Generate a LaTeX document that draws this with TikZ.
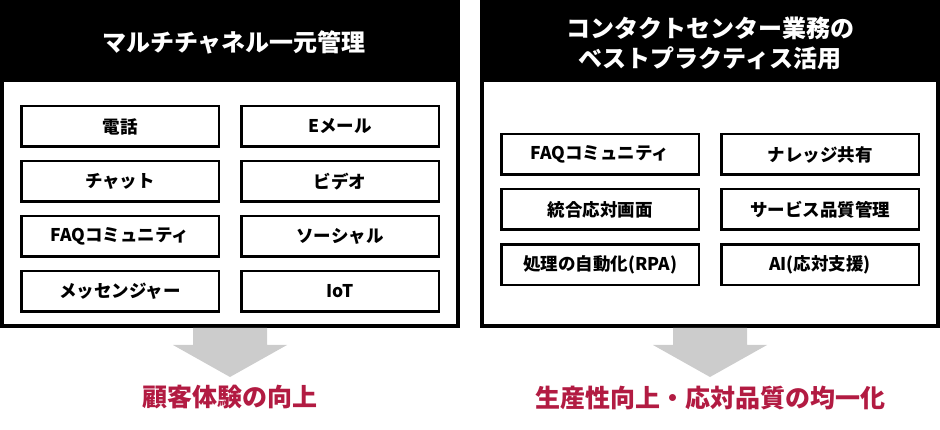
\documentclass[tikz,border=0pt]{standalone}
\usepackage{fontspec}
\setmainfont{Noto Sans CJK JP}
\definecolor{crim}{RGB}{178,27,66}
\definecolor{arr}{RGB}{204,204,204}
\begin{document}
\begin{tikzpicture}[x=1pt,y=-1pt,
  item/.style={draw=black,line width=2.5pt,fill=white,minimum width=197.5pt,minimum height=40.5pt,inner sep=0pt,font=\fontsize{17.5}{20}\selectfont\bfseries},
  head/.style={text=white,align=center,font=\fontsize{24}{30}\selectfont\bfseries},
  result/.style={text=crim,font=\fontsize{25}{28}\selectfont\bfseries},
  blockarrow/.style={fill=arr}]
\useasboundingbox (0,0) rectangle (940,430);
% panels
\fill[black] (0,0) rectangle (460,328);
\fill[white] (4,82) rectangle (456,324);
\fill[black] (480,0) rectangle (940,328);
\fill[white] (484,82) rectangle (936,324);
\node[head] (lt) at (234,42) {マルチチャネル一元管理};
\node[head] (rt) at (710,43) {コンタクトセンター業務の\\ベストプラクティス活用};
% left items
\node[item] (l1) at (120,126.5) {電話};
\node[item] (l2) at (120,181.5) {チャット};
\node[item] (l3) at (120,236.5) {FAQコミュニティ};
\node[item] (l4) at (120,291.5) {メッセンジャー};
\node[item] (r1) at (340,126.5) {Eメール};
\node[item] (r2) at (340,181.5) {ビデオ};
\node[item] (r3) at (340,236.5) {ソーシャル};
\node[item] (r4) at (340,291.5) {IoT};
% right items
\node[item] (a1) at (600,154.5) {FAQコミュニティ};
\node[item] (a2) at (600,209.5) {統合応対画面};
\node[item] (a3) at (600,265) {処理の自動化(RPA)};
\node[item] (b1) at (820,154.5) {ナレッジ共有};
\node[item] (b2) at (820,209.5) {サービス品質管理};
\node[item] (b3) at (820,265) {AI(応対支援)};
% arrows
\fill[blockarrow] (193,328) -- (267,328) -- (267,345) -- (287,345) -- (230,377) -- (173,345) -- (193,345) -- cycle;
\fill[blockarrow] (673,328) -- (747,328) -- (747,345) -- (767,345) -- (710,377) -- (653,345) -- (673,345) -- cycle;
% results
\node[result] (res1) at (230,397) {顧客体験の向上};
\node[result] (res2) at (710,398) {生産性向上・応対品質の均一化};
\end{tikzpicture}
\end{document}
